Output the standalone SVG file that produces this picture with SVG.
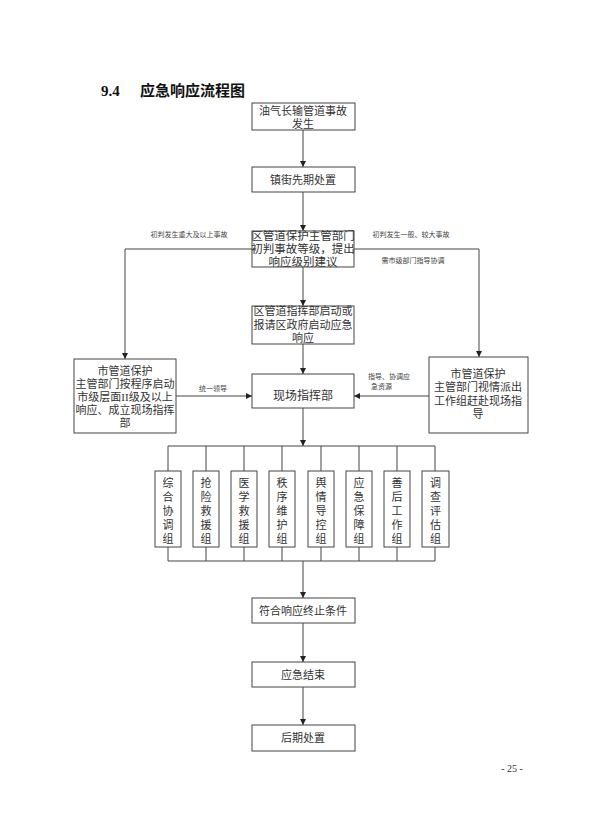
<svg xmlns="http://www.w3.org/2000/svg" width="590" height="834" viewBox="0 0 590 834">
<defs>
<marker id="arr" markerUnits="userSpaceOnUse" markerWidth="6" markerHeight="6" refX="6" refY="3" orient="auto">
<path d="M0,0 L6,3 L0,6 z" fill="#222"/>
</marker>
<style>
.box{fill:#fff;stroke:#444;stroke-width:1}
.t{font-family:"Liberation Serif","Noto Sans CJK SC",serif;fill:#333;text-anchor:middle;dominant-baseline:central}
.m{font-size:11px}
.s{font-size:7px;fill:#444}
.ln{fill:none;stroke:#444;stroke-width:1}
.ar{fill:none;stroke:#444;stroke-width:1;marker-end:url(#arr)}
</style>
</defs>
<rect width="590" height="834" fill="#fff"/>
<text x="101" y="96" style="font-family:'Liberation Serif','Noto Sans CJK SC',serif;font-weight:bold;font-size:15px;fill:#111">9.4</text>
<text x="140" y="96" style="font-family:'Liberation Serif','Noto Sans CJK SC',serif;font-weight:bold;font-size:15px;fill:#111">应急响应流程图</text>

<g id="connectors">
<path class="ar" d="M303,130 V167"/>
<path class="ar" d="M303,192 V231"/>
<path class="ar" d="M252,249 H125 V359"/>
<path class="ar" d="M354,249 H479 V357"/>
<path class="ar" d="M303,267 V306"/>
<path class="ar" d="M303,344 V374"/>
<path class="ar" d="M176,396 H252"/>
<path class="ar" d="M429,396 H354"/>
<path class="ar" d="M303,408 V446"/>
<path class="ln" d="M168,446 H435 M168,446 V471 M206,446 V471 M244,446 V471 M282,446 V471 M321,446 V471 M359,446 V471 M397,446 V471 M435,446 V471"/>
<path class="ln" d="M168,561 H435 M168,547 V561 M206,547 V561 M244,547 V561 M282,547 V561 M321,547 V561 M359,547 V561 M397,547 V561 M435,547 V561"/>
<path class="ar" d="M303,561 V598"/>
<path class="ar" d="M303,623 V662"/>
<path class="ar" d="M303,687 V725"/>
<text class="t s" x="189" y="235">初判发生重大及以上事故</text>
<text class="t s" x="411" y="235">初判发生一般、较大事故</text>
<text class="t s" x="413" y="261">需市级部门指导协调</text>
<text class="t s" x="213" y="389">统一领导</text>
<text class="t s" x="368" y="377" style="text-anchor:start">指导、协调应</text>
<text class="t s" x="371" y="387" style="text-anchor:start">急资源</text>
</g>

<g id="n1"><rect class="box" x="252" y="103" width="103" height="27"/>
<text class="t m" x="303" y="111">油气长输管道事故</text><text class="t m" x="303" y="124">发生</text></g>
<g id="n2"><rect class="box" x="252" y="167" width="103" height="25"/>
<text class="t m" x="303" y="180">镇街先期处置</text></g>
<g id="n3"><rect class="box" x="252" y="231" width="102" height="36"/>
<text class="t" style="font-size:11.5px" x="303" y="236">区管道保护主管部门</text>
<text class="t" style="font-size:11.5px" x="303" y="249">初判事故等级，提出</text>
<text class="t" style="font-size:11.5px" x="303" y="262">响应级别建议</text></g>
<g id="n4"><rect class="box" x="252" y="306" width="102" height="38"/>
<text class="t m" x="303" y="311">区管道指挥部启动或</text>
<text class="t m" x="303" y="325">报请区政府启动应急</text>
<text class="t m" x="303" y="338">响应</text></g>
<g id="n5"><rect class="box" x="74" y="359" width="102" height="74"/>
<text class="t m" x="125" y="371">市管道保护</text>
<text class="t m" x="125" y="384">主管部门按程序启动</text>
<text class="t m" x="125" y="397">市级层面II级及以上</text>
<text class="t m" x="125" y="410">响应、成立现场指挥</text>
<text class="t m" x="125" y="423">部</text></g>
<g id="n6"><rect class="box" x="429" y="357" width="99" height="76"/>
<text class="t m" x="478" y="374">市管道保护</text>
<text class="t m" x="478" y="387">主管部门视情派出</text>
<text class="t m" x="478" y="401">工作组赶赴现场指</text>
<text class="t m" x="478" y="414">导</text></g>
<g id="n7"><rect class="box" x="252" y="374" width="102" height="34"/>
<text class="t" style="font-size:12px" x="303" y="396">现场指挥部</text></g>

<g id="g1"><rect class="box" x="155" y="471" width="26" height="76"/>
<text class="t m" x="168" y="483">综</text><text class="t m" x="168" y="497">合</text><text class="t m" x="168" y="511">协</text><text class="t m" x="168" y="525">调</text><text class="t m" x="168" y="539">组</text></g>
<g id="g2"><rect class="box" x="193" y="471" width="26" height="76"/>
<text class="t m" x="206" y="483">抢</text><text class="t m" x="206" y="497">险</text><text class="t m" x="206" y="511">救</text><text class="t m" x="206" y="525">援</text><text class="t m" x="206" y="539">组</text></g>
<g id="g3"><rect class="box" x="231" y="471" width="26" height="76"/>
<text class="t m" x="244" y="483">医</text><text class="t m" x="244" y="497">学</text><text class="t m" x="244" y="511">救</text><text class="t m" x="244" y="525">援</text><text class="t m" x="244" y="539">组</text></g>
<g id="g4"><rect class="box" x="269" y="471" width="26" height="76"/>
<text class="t m" x="282" y="483">秩</text><text class="t m" x="282" y="497">序</text><text class="t m" x="282" y="511">维</text><text class="t m" x="282" y="525">护</text><text class="t m" x="282" y="539">组</text></g>
<g id="g5"><rect class="box" x="308" y="471" width="26" height="76"/>
<text class="t m" x="321" y="483">舆</text><text class="t m" x="321" y="497">情</text><text class="t m" x="321" y="511">导</text><text class="t m" x="321" y="525">控</text><text class="t m" x="321" y="539">组</text></g>
<g id="g6"><rect class="box" x="346" y="471" width="26" height="76"/>
<text class="t m" x="359" y="483">应</text><text class="t m" x="359" y="497">急</text><text class="t m" x="359" y="511">保</text><text class="t m" x="359" y="525">障</text><text class="t m" x="359" y="539">组</text></g>
<g id="g7"><rect class="box" x="384" y="471" width="26" height="76"/>
<text class="t m" x="397" y="483">善</text><text class="t m" x="397" y="497">后</text><text class="t m" x="397" y="511">工</text><text class="t m" x="397" y="525">作</text><text class="t m" x="397" y="539">组</text></g>
<g id="g8"><rect class="box" x="422" y="471" width="27" height="76"/>
<text class="t m" x="435.5" y="483">调</text><text class="t m" x="435.5" y="497">查</text><text class="t m" x="435.5" y="511">评</text><text class="t m" x="435.5" y="525">估</text><text class="t m" x="435.5" y="539">组</text></g>

<g id="n8"><rect class="box" x="252" y="598" width="103" height="25"/>
<text class="t m" x="303" y="611">符合响应终止条件</text></g>
<g id="n9"><rect class="box" x="252" y="662" width="103" height="25"/>
<text class="t m" x="303" y="675">应急结束</text></g>
<g id="n10"><rect class="box" x="252" y="725" width="103" height="26"/>
<text class="t m" x="303" y="738">后期处置</text></g>

<text x="512" y="772" style="font-family:'Liberation Serif',serif;font-size:10px;fill:#333;text-anchor:middle">- 25 -</text>
</svg>
